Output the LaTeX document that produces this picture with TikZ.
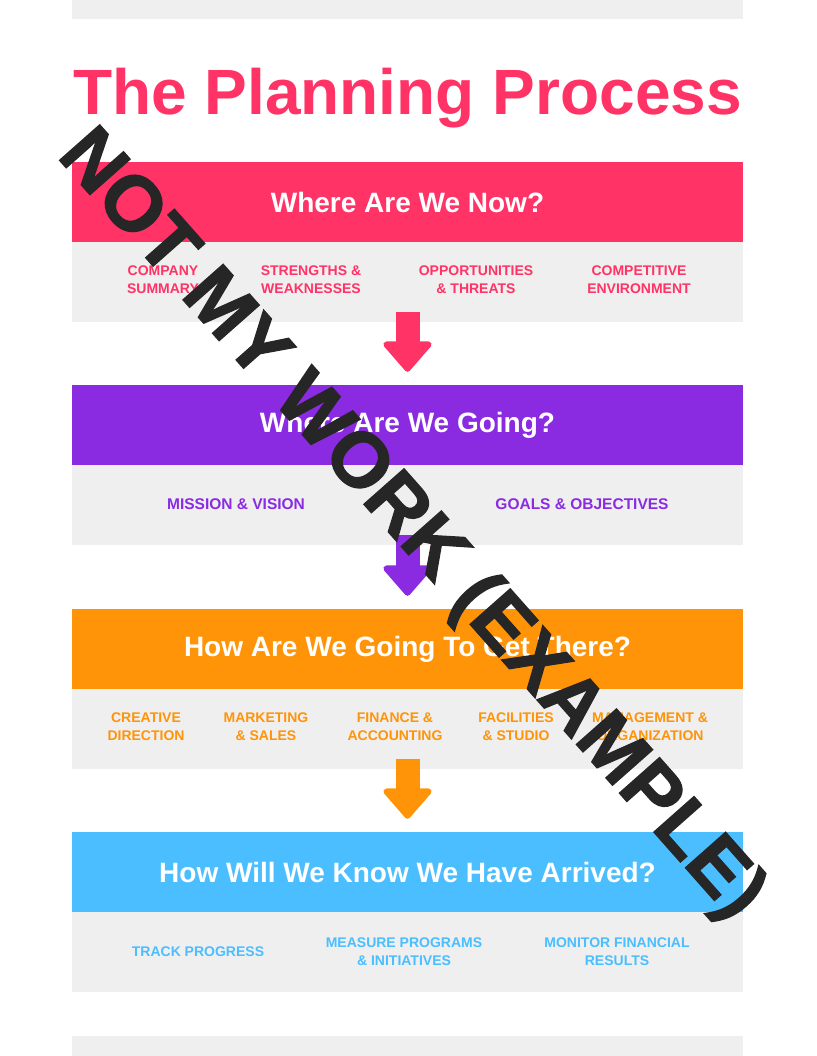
\documentclass[tikz,border=0pt]{standalone}
\usepackage{fontspec}
\setmainfont{Liberation Sans}
\newfontfamily\stampfont[FakeBold=1.6]{Liberation Sans Bold}
\usetikzlibrary{arrows.meta,positioning}
\definecolor{planpink}{RGB}{255,51,102}
\definecolor{planpurple}{RGB}{138,43,226}
\definecolor{planorange}{RGB}{255,148,8}
\definecolor{planblue}{RGB}{75,190,255}
\definecolor{plangray}{RGB}{239,239,239}

\tikzset{
  header/.style={fill=#1, text=white, minimum width=671pt, minimum height=80pt,
                 inner sep=0pt, font=\fontsize{28}{32}\selectfont\bfseries},
  panel/.style={fill=plangray, minimum width=671pt, minimum height=80pt, inner sep=0pt},
  item/.style={text=#1, align=center, inner sep=0pt,
               font=\fontsize{14}{18}\selectfont\bfseries},
  bigitem/.style={item=#1, font=\fontsize{15.5}{18}\selectfont\bfseries},
  bigarrow/.style={draw=#1, line width=24pt,
                   -{Triangle[width=54pt,length=32pt,line width=6pt,round]}},
}

\begin{document}
\begin{tikzpicture}[x=1pt,y=-1pt]
    \useasboundingbox (0,0) rectangle (816,1056);
    % page strips
    \fill[plangray] (72,0) rectangle (743,19);
    \fill[plangray] (72,1036) rectangle (743,1056);

    \node[text=planpink, anchor=base west, inner sep=0pt,
          font=\fontsize{64}{70}\selectfont\bfseries]
      (title) at (73,115) {The Planning Process};

    % sections
    \node[header=planpink]   (h1) at (407.5,202) {Where Are We Now?};
    \node[panel, below=0pt of h1] (p1) {};
    \node[header=planpurple] (h2) at (407.5,425) {Where Are We Going?};
    \node[panel, below=0pt of h2] (p2) {};
    \node[header=planorange] (h3) at (407.5,649) {How Are We Going To Get There?};
    \node[panel, below=0pt of h3] (p3) {};
    \node[header=planblue]   (h4) at (407.5,872) {How Will We Know We Have Arrived?};
    \node[panel, below=0pt of h4] (p4) {};

    \foreach \t/\x/\n in {COMPANY\\SUMMARY/163/a, STRENGTHS \&\\WEAKNESSES/311/b,
                          OPPORTUNITIES\\\& THREATS/476/c, COMPETITIVE\\ENVIRONMENT/639/d}{
      \node[item=planpink] (s1\n) at (\x,280) {\t};
    }
    \foreach \t/\x/\n in {MISSION \& VISION/236/a, GOALS \& OBJECTIVES/582/b}{
      \node[bigitem=planpurple] (s2\n) at (\x,504) {\t};
    }
    \foreach \t/\x/\n in {CREATIVE\\DIRECTION/146/a, MARKETING\\\& SALES/266/b,
                          FINANCE \&\\ACCOUNTING/395/c, FACILITIES\\\& STUDIO/516/d,
                          MANAGEMENT \&\\ORGANIZATION/650/e}{
      \node[item=planorange] (s3\n) at (\x,727) {\t};
    }
    \foreach \t/\x/\n in {TRACK PROGRESS/198/a, MEASURE PROGRAMS\\\& INITIATIVES/404/b,
                          MONITOR FINANCIAL\\RESULTS/617/c}{
      \node[item=planblue] (s4\n) at (\x,952) {\t};
    }

    % arrows between sections
    \draw[bigarrow=planpink]   ([yshift=11pt]p1.south) -- ([yshift=13pt]h2.north);
    \draw[bigarrow=planpurple] ([yshift=11pt]p2.south) -- ([yshift=13pt]h3.north);
    \draw[bigarrow=planorange] ([yshift=11pt]p3.south) -- ([yshift=13pt]h4.north);

    % stamp
    \node[rotate=-48.5, text=black!85, inner sep=0pt,
          font=\fontsize{78}{80}\selectfont\stampfont]
      (stamp) at (410,526) {NOT MY WORK (EXAMPLE)};
\end{tikzpicture}
\end{document}
